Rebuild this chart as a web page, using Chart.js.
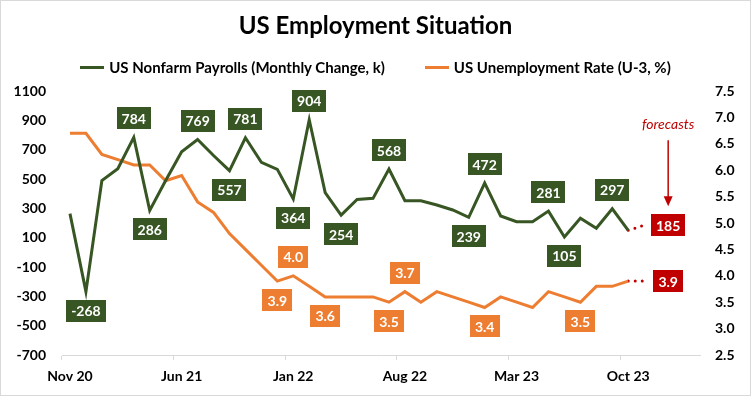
<!DOCTYPE html>
<html>
<head>
<meta charset="utf-8">
<script src="https://cdn.jsdelivr.net/npm/chart.js@4.4.0/dist/chart.umd.min.js"></script>
<style>
  body { margin: 0; background: #fff; }
  #wrap { position: relative; width: 751px; height: 396px; font-family: Lato, 'Open Sans', sans-serif; color: #000; }
  #frame { position: absolute; left: 0; top: 0; width: 751px; height: 396px; box-sizing: border-box; border: 1px solid #d9d9d9; pointer-events: none; }
  #title { position: absolute; left: 0; width: 751px; top: 9px; text-align: center; font-weight: bold; font-size: 24px; line-height: 32px; }
  #legend { position: absolute; left: 0; width: 751px; top: 58px; display: flex; justify-content: center; gap: 40px; font-weight: bold; font-size: 15px; line-height: 18px; }
  #legend .item { display: flex; align-items: center; }
  #legend .swatch { display: inline-block; width: 24px; height: 3px; margin-right: 5px; }
  canvas { position: absolute; left: 0; top: 0; }
</style>
</head>
<body>
<div id="wrap">
  <canvas id="empChart" width="751" height="396"></canvas>
  <div id="title">US Employment Situation</div>
  <div id="legend">
    <div class="item"><span class="swatch" style="background:#375623"></span>US Nonfarm Payrolls (Monthly Change, k)</div>
    <div class="item"><span class="swatch" style="background:#ED7D31"></span>US Unemployment Rate (U-3, %)</div>
  </div>
  <div id="frame"></div>
</div>
<script>
const GREEN = '#375623';
const ORANGE = '#ED7D31';
const RED = '#C00000';

const months = [
    'Nov 20', 'Dec 20', 'Jan 21', 'Feb 21', 'Mar 21', 'Apr 21', 'May 21', 'Jun 21', 'Jul 21', 'Aug 21',
    'Sep 21', 'Oct 21', 'Nov 21', 'Dec 21', 'Jan 22', 'Feb 22', 'Mar 22', 'Apr 22', 'May 22', 'Jun 22',
    'Jul 22', 'Aug 22', 'Sep 22', 'Oct 22', 'Nov 22', 'Dec 22', 'Jan 23', 'Feb 23', 'Mar 23', 'Apr 23',
    'May 23', 'Jun 23', 'Jul 23', 'Aug 23', 'Sep 23', 'Oct 23', 'Nov 23', 'Dec 23', 'Jan 24', 'Feb 24'
];

// monthly change in nonfarm payrolls, thousands (Nov 20 - Oct 23)
const payrolls = [
    264, -268, 490, 570, 784, 286, 490, 686, 769, 660,
    557, 781, 614, 566, 364, 904, 407, 254, 361, 368,
    568, 352, 352, 323, 289, 239, 472, 248, 209, 209,
    281, 105, 232, 164, 297, 150
];

// U-3 unemployment rate, %
const unemployment = [
    6.7, 6.7, 6.3, 6.2, 6.1, 6.1, 5.8, 5.9, 5.4, 5.2,
    4.8, 4.5, 4.2, 3.9, 4.0, 3.8, 3.6, 3.6, 3.6, 3.6,
    3.5, 3.7, 3.5, 3.7, 3.6, 3.5, 3.4, 3.6, 3.5, 3.4,
    3.7, 3.6, 3.5, 3.8, 3.8, 3.9
];

const forecastMonth = 'Nov 23';
const forecastPayroll = 185;
const forecastRate = 3.9;

const payrollLabelMonths = ['Dec 20', 'Mar 21', 'Apr 21', 'Jul 21', 'Sep 21', 'Oct 21', 'Jan 22', 'Feb 22',
    'Apr 22', 'Jul 22', 'Dec 22', 'Jan 23', 'May 23', 'Jun 23', 'Sep 23'];
const rateLabelMonths = ['Dec 21', 'Jan 22', 'Mar 22', 'Jul 22', 'Aug 22', 'Jan 23', 'Jul 23'];

const leftTicks = { min: -700, max: 1100, step: 200 };
const rightTicks = { min: 2.5, max: 7.5, step: 0.5 };

const lastIdx = payrolls.length - 1;
const payrollForecastLine = months.map((m, i) => i === lastIdx ? payrolls[lastIdx] : (m === forecastMonth ? forecastPayroll : null));
const rateForecastLine = months.map((m, i) => i === lastIdx ? unemployment[lastIdx] : (m === forecastMonth ? forecastRate : null));

function drawBox(ctx, x, y, text, color) {
    const w = Math.round(ctx.measureText(text).width + 10);
    const h = 22;
    ctx.fillStyle = color;
    ctx.fillRect(Math.round(x - w / 2), Math.round(y - h / 2), w, h);
    ctx.fillStyle = '#fff';
    ctx.fillText(text, x, y + 1);
}

function drawSeriesLabels(chart, datasetIndex, values, labelMonths, color, fmt) {
    const meta = chart.getDatasetMeta(datasetIndex);
    labelMonths.forEach(m => {
        const i = months.indexOf(m);
        const pt = meta.data[i];
        if (!pt) return;
        const prev = values[i - 1], next = values[i + 1];
        const peak = values[i] >= prev && (next === undefined || values[i] >= next);
        drawBox(chart.ctx, pt.x, peak ? pt.y - 19 : pt.y + 19, fmt(values[i]), color);
    });
}

const labelPlugin = {
    id: 'boxLabels',
    afterDatasetsDraw(chart) {
        const ctx = chart.ctx;
        ctx.save();
        ctx.font = 'bold 14px Lato';
        ctx.textAlign = 'center';
        ctx.textBaseline = 'middle';
        drawSeriesLabels(chart, 0, payrolls, payrollLabelMonths, GREEN, v => String(v));
        drawSeriesLabels(chart, 1, unemployment, rateLabelMonths, ORANGE, v => v.toFixed(1));

        const fi = months.indexOf(forecastMonth);
        const p1 = chart.getDatasetMeta(2).data[fi];
        const p2 = chart.getDatasetMeta(3).data[fi];
        const lx = p1.x + 24;
        drawBox(ctx, lx, p1.y, String(forecastPayroll), RED);
        drawBox(ctx, lx, p2.y, forecastRate.toFixed(1), RED);

        // "forecasts" note with arrow
        const tip = p1.y - 11 - 8;
        const top = tip - 66;
        ctx.fillStyle = RED;
        ctx.font = 'italic 14px Lato';
        ctx.fillText('forecasts', lx, top - 16);
        ctx.strokeStyle = RED;
        ctx.lineWidth = 1.5;
        ctx.beginPath();
        ctx.moveTo(lx, top);
        ctx.lineTo(lx, tip - 9);
        ctx.stroke();
        ctx.beginPath();
        ctx.moveTo(lx - 4.5, tip - 10);
        ctx.lineTo(lx + 4.5, tip - 10);
        ctx.lineTo(lx, tip);
        ctx.closePath();
        ctx.fill();
        ctx.restore();
    }
};

const bgPlugin = {
    id: 'whiteBg',
    beforeDraw(chart) {
        const ctx = chart.ctx;
        ctx.save();
        ctx.fillStyle = '#fff';
        ctx.fillRect(0, 0, chart.width, chart.height);
        ctx.restore();
    }
};

const tickFont = { family: 'Lato', weight: 'bold', size: 14 };

new Chart(document.getElementById('empChart'), {
    type: 'line',
    data: {
        labels: months,
        datasets: [
            {
                label: 'US Nonfarm Payrolls (Monthly Change, k)',
                data: payrolls,
                borderColor: GREEN,
                borderWidth: 3,
                pointRadius: 0,
                tension: 0,
                yAxisID: 'y'
            },
            {
                label: 'US Unemployment Rate (U-3, %)',
                data: unemployment,
                borderColor: ORANGE,
                borderWidth: 3,
                pointRadius: 0,
                tension: 0,
                yAxisID: 'y1'
            },
            {
                label: '',
                data: payrollForecastLine,
                borderColor: RED,
                borderWidth: 3,
                borderDash: [0, 7],
                borderCapStyle: 'round',
                pointRadius: 0,
                yAxisID: 'y'
            },
            {
                label: '',
                data: rateForecastLine,
                borderColor: RED,
                borderWidth: 3,
                borderDash: [0, 7],
                borderCapStyle: 'round',
                pointRadius: 0,
                yAxisID: 'y1'
            }
        ]
    },
    options: {
        responsive: false,
        animation: false,
        layout: { padding: { top: 91, left: 0, right: 0, bottom: 0 } },
        plugins: {
            legend: { display: false },
            title: { display: false },
            tooltip: { enabled: false }
        },
        scales: {
            x: {
                type: 'category',
                offset: true,
                afterFit: (s) => { s.height = 41; },
                border: { color: '#d9d9d9', width: 1 },
                grid: {
                    display: true,
                    drawOnChartArea: false,
                    offset: true,
                    tickLength: 5,
                    tickColor: (c) => c.index % 7 === 0 ? '#d9d9d9' : 'rgba(0,0,0,0)'
                },
                ticks: {
                    autoSkip: false,
                    maxRotation: 0,
                    padding: 8,
                    color: '#000',
                    font: tickFont,
                    callback: function(val, i) { return i % 7 === 0 ? this.getLabelForValue(val) : ''; }
                }
            },
            y: {
                position: 'left',
                min: leftTicks.min,
                max: leftTicks.max,
                afterFit: (s) => { s.width = 62; },
                border: { display: false },
                grid: { display: false, drawTicks: false },
                ticks: {
                    stepSize: leftTicks.step,
                    padding: 16,
                    color: '#000',
                    font: tickFont,
                    callback: (v) => String(v)
                }
            },
            y1: {
                position: 'right',
                min: rightTicks.min,
                max: rightTicks.max,
                afterFit: (s) => { s.width = 51; },
                border: { display: false },
                grid: { display: false, drawTicks: false },
                ticks: {
                    stepSize: rightTicks.step,
                    padding: 15,
                    color: '#000',
                    font: tickFont,
                    callback: (v) => Number(v).toFixed(1)
                }
            }
        }
    },
    plugins: [bgPlugin, labelPlugin]
});
</script>
</body>
</html>
